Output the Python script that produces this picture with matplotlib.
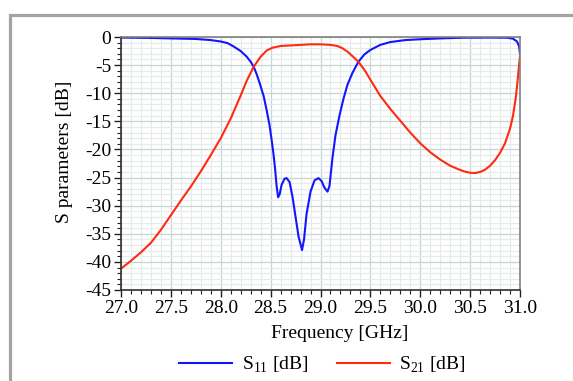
import matplotlib
matplotlib.use('Agg')
import matplotlib.pyplot as plt
from matplotlib.ticker import MultipleLocator, FormatStrFormatter
from matplotlib.patches import Rectangle

plt.rcParams['font.family'] = ['Liberation Serif', 'DejaVu Serif']
plt.rcParams['axes.unicode_minus'] = False
plt.rcParams['mathtext.fontset'] = 'custom'
plt.rcParams['mathtext.rm'] = 'Liberation Serif'

# S11
f11 = [27.0, 27.25, 27.5, 27.75, 27.9, 28.0, 28.07, 28.13, 28.2, 28.26, 28.3, 28.33,
       28.36, 28.39, 28.43, 28.46, 28.49, 28.51, 28.53, 28.545, 28.56, 28.575, 28.59,
       28.61, 28.64, 28.66, 28.69, 28.72, 28.75, 28.78, 28.815, 28.835, 28.86, 28.9,
       28.94, 28.98, 29.01, 29.04, 29.07, 29.09, 29.12, 29.15, 29.19, 29.23, 29.27,
       29.32, 29.38, 29.44, 29.5, 29.6, 29.7, 29.85, 30.0, 30.2, 30.43, 30.7, 30.87,
       30.93, 30.97, 30.99, 31.0]
s11 = [-0.1, -0.15, -0.25, -0.35, -0.55, -0.8, -1.1, -1.7, -2.5, -3.5, -4.4, -5.3,
       -6.6, -8.2, -10.5, -13.0, -15.8, -18.3, -21.0, -23.5, -26.5, -28.5, -28.0,
       -26.3, -25.2, -25.1, -25.8, -28.5, -32.0, -35.5, -37.9, -36.0, -31.5, -27.5,
       -25.5, -25.1, -25.6, -26.8, -27.5, -26.5, -21.5, -17.5, -14.0, -11.0, -8.5,
       -6.4, -4.4, -3.1, -2.3, -1.4, -0.9, -0.55, -0.4, -0.25, -0.12, -0.1, -0.12,
       -0.3, -0.8, -1.6, -3.0]

# S21
f21 = [27.0, 27.1, 27.2, 27.3, 27.4, 27.5, 27.6, 27.7, 27.8, 27.9, 28.0, 28.1, 28.2,
       28.26, 28.33, 28.4, 28.46, 28.52, 28.6, 28.7, 28.8, 28.9, 29.0, 29.1, 29.17,
       29.22, 29.27, 29.32, 29.38, 29.45, 29.5, 29.6, 29.7, 29.8, 29.9, 30.0, 30.1,
       30.2, 30.3, 30.4, 30.45, 30.5, 30.55, 30.6, 30.65, 30.7, 30.75, 30.8, 30.85,
       30.9, 30.93, 30.96, 30.98, 31.0]
s21 = [-41.2, -39.8, -38.3, -36.6, -34.3, -31.7, -29.1, -26.6, -23.9, -21.0, -18.0,
       -14.5, -10.4, -7.8, -5.3, -3.5, -2.4, -1.9, -1.6, -1.5, -1.4, -1.3, -1.3,
       -1.4, -1.6, -2.0, -2.6, -3.4, -4.4, -6.1, -7.6, -10.5, -12.8, -14.9, -17.0,
       -18.9, -20.5, -21.8, -22.9, -23.65, -23.95, -24.15, -24.2, -24.0, -23.6, -22.9,
       -21.9, -20.6, -18.9, -16.3, -14.0, -10.5, -7.0, -3.3]

fig = plt.figure(figsize=(5.73, 3.81), dpi=100)
ax = fig.add_axes([121/573, 1-290/381, 399/573, 253/381])

# grey frame (top and left) around the figure
fig.patches.append(Rectangle((9.5/573, -0.1), 1.2, 0.1 + (381-14.5)/381,
                             transform=fig.transFigure, fill=False,
                             edgecolor='#a4a4a4', linewidth=2.3, zorder=0))

ax.plot(f11, s11, color='#1414ff', lw=1.5, label='S$_{11}$ [dB]')
ax.plot(f21, s21, color='#ff2a12', lw=1.5, label='S$_{21}$ [dB]')

ax.set_xlim(27.0, 31.0)
ax.set_ylim(-45, 0)
ax.xaxis.set_major_locator(MultipleLocator(0.5))
ax.xaxis.set_minor_locator(MultipleLocator(0.1))
ax.yaxis.set_major_locator(MultipleLocator(5))
ax.yaxis.set_minor_locator(MultipleLocator(1))
ax.xaxis.set_major_formatter(FormatStrFormatter('%.1f'))
ax.grid(which='major', color='#c6d6d2', lw=0.9)
ax.grid(which='minor', color='#e3ecea', lw=0.8)
ax.set_axisbelow(True)

ax.tick_params(which='major', length=5, width=1, labelsize=14, direction='out',
               color='#222222', pad=2)
ax.tick_params(which='minor', length=3, width=0.8, direction='out', color='#222222')

for s in ['left', 'bottom']:
    ax.spines[s].set_color('#303030')
for s in ['top', 'right']:
    ax.spines[s].set_color('#808080')
for s in ax.spines.values():
    s.set_linewidth(1.2)

ax.set_xlabel('Frequency [GHz]', fontsize=14)
ax.set_ylabel('S parameters [dB]', fontsize=14)
ax.xaxis.set_label_coords(0.549, -0.14)
ax.yaxis.set_label_coords(-0.12, 0.545)

ax.legend(loc='center', bbox_to_anchor=(0.505, -0.297), ncol=2, frameon=False,
          fontsize=14, handlelength=2.7, columnspacing=1.5, handletextpad=0.5)

fig.savefig('out.png', dpi=100)
